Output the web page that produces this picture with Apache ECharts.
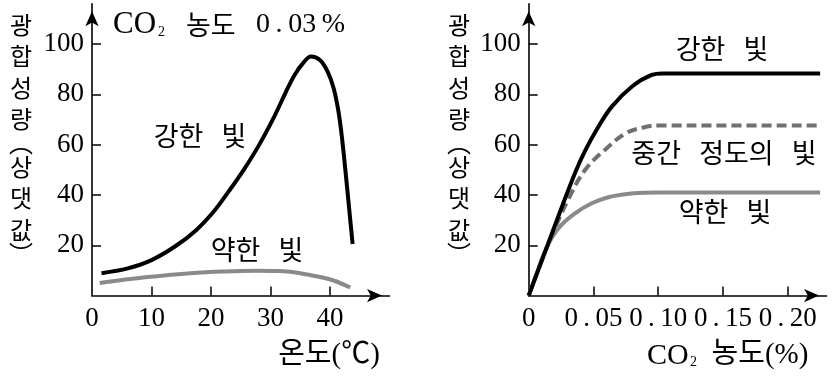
<!DOCTYPE html>
<html><head><meta charset="utf-8">
<script src="https://cdn.jsdelivr.net/npm/echarts@6/dist/echarts.min.js"></script>
<style>html,body{margin:0;padding:0;background:#fff}#c{width:833px;height:379px}</style>
</head><body><div id="c"></div>
<script>
// ---- data ----
const tempTicks = [0, 10, 20, 30, 40];
const tempTickMarks = [10, 20, 30, 40];
const co2Ticks = [0, 0.05, 0.10, 0.15, 0.20];
const co2TickMarks = [0.05, 0.10, 0.15, 0.20];
const co2TickLabels = ['0', '0.05', '0.10', '0.15', '0.20'];
const rateTicks = [20, 40, 60, 80, 100];

// left chart: photosynthesis vs temperature (CO2 0.03%)
const tempStrong = [[1.6,8.9],[6,10.8],[10,14.1],[14,19.6],[17.5,26],[20.5,33.5],[23,41.5],[25.5,50],[28,59.5],[30.5,70.5],[32.5,80.5],[34,87.5],[35.5,92.5],[36.8,95],[38.3,93.6],[39.6,89],[40.6,82.5],[41.4,73.5],[42,63],[42.6,49.5],[43.2,35],[43.8,20.5]];
const tempWeak = [[1.3,5],[5.3,6.3],[10.9,7.7],[16.5,8.9],[22.1,9.6],[27.7,9.9],[31.5,9.8],[35,8.9],[38.3,7.4],[40.6,6.0],[43.4,3.2]];

// right chart: photosynthesis vs CO2 concentration
const co2Strong = [[0,0],[0.012,16.5],[0.024,33],[0.036,49],[0.0435,57.5],[0.052,65.5],[0.064,75],[0.08,83.2],[0.095,87.7],[0.103,88.3],[0.15,88.3],[0.225,88.3]];
const co2Medium = [[0,0],[0.009,12.5],[0.018,24],[0.0308,38.5],[0.0435,49.9],[0.059,58],[0.075,64.5],[0.09,67],[0.1,67.6],[0.15,67.6],[0.225,67.6]];
const co2Weak = [[0,0],[0.007,10],[0.0139,19.2],[0.0229,26.7],[0.0358,32.7],[0.0487,36.7],[0.0615,39.1],[0.0744,40.3],[0.09,40.9],[0.1,41],[0.15,41],[0.225,41]];

const seriesNames = ['강한 빛', '약한 빛', '중간 정도의 빛'];

// ---- style ----
const SERIF = "'Liberation Serif', 'Noto Sans CJK KR', serif";
const SANS = "'Noto Sans CJK KR', sans-serif";
const BLACK = '#000';
const GRAY = '#8a8a8a';
const DGRAY = '#707070';

function axisLine() {
  return { show: true, onZero: true, lineStyle: { color: BLACK, width: 1.6 },
           symbol: ['none', 'arrow'], symbolSize: [10, 15], symbolOffset: [0, -7.5] };
}
function tick(vals) {
  return { show: true, inside: true, length: 9, customValues: vals, lineStyle: { color: BLACK, width: 1.5 } };
}
const labelBase = { color: BLACK, fontSize: 27, fontFamily: SERIF, hideOverlap: false };
const dot = s => s.replace('.', '\u2009.\u2009');

const gridTop = 3.7, gridH = 291.9;

const option = {
  animation: false,
  backgroundColor: '#fff',
  grid: [
    { left: 92, top: gridTop, width: 297.5, height: gridH },
    { left: 528.7, top: gridTop, width: 297.9, height: gridH }
  ],
  xAxis: [
    { type: 'value', gridIndex: 0, min: 0, max: 50, splitLine: { show: false },
      axisLine: axisLine(), axisTick: tick(tempTickMarks),
      axisLabel: Object.assign({ customValues: tempTicks, margin: 10 }, labelBase) },
    { type: 'value', gridIndex: 1, min: 0, max: 0.23, splitLine: { show: false },
      axisLine: axisLine(), axisTick: tick(co2TickMarks),
      axisLabel: Object.assign({ customValues: co2Ticks, margin: 10,
        formatter: v => { let i = co2Ticks.findIndex(t => Math.abs(t - v) < 1e-6); return i < 0 ? '' : dot(co2TickLabels[i]); } }, labelBase) }
  ],
  yAxis: [
    { type: 'value', gridIndex: 0, min: 0, max: 116, splitLine: { show: false },
      axisLine: axisLine(), axisTick: tick(rateTicks),
      axisLabel: Object.assign({ customValues: rateTicks, margin: 8 }, labelBase) },
    { type: 'value', gridIndex: 1, min: 0, max: 116, splitLine: { show: false },
      axisLine: axisLine(), axisTick: tick(rateTicks),
      axisLabel: Object.assign({ customValues: rateTicks, margin: 8 }, labelBase) }
  ],
  series: [
    { name: seriesNames[1], type: 'line', xAxisIndex: 0, yAxisIndex: 0, data: tempWeak, smooth: 0.4, showSymbol: false,
      lineStyle: { color: GRAY, width: 4 } },
    { name: seriesNames[0], type: 'line', xAxisIndex: 0, yAxisIndex: 0, data: tempStrong, smooth: 0.35, showSymbol: false,
      lineStyle: { color: BLACK, width: 4 } },
    { name: seriesNames[1], type: 'line', xAxisIndex: 1, yAxisIndex: 1, data: co2Weak, smooth: 0.4, showSymbol: false,
      lineStyle: { color: GRAY, width: 4 } },
    { name: seriesNames[2], type: 'line', xAxisIndex: 1, yAxisIndex: 1, data: co2Medium, smooth: 0.4, showSymbol: false,
      lineStyle: { color: DGRAY, width: 4, type: [10, 5] } },
    { name: seriesNames[0], type: 'line', xAxisIndex: 1, yAxisIndex: 1, data: co2Strong, smooth: 0.4, showSymbol: false,
      lineStyle: { color: BLACK, width: 4 } }
  ],
  graphic: []
};

function txt(x, y, text, size, family, align) {
  return { type: 'text', x: x, y: y, silent: true,
           style: { text: text, fontSize: size, fontFamily: family, fill: BLACK,
                    align: align || 'center', verticalAlign: 'middle' } };
}
function vName(x, top) {
  const t = '{c|광}\n{c|합}\n{c|성}\n{c|량}\n{p|︵}\n{c|상}\n{c|댓}\n{c|값}\n{p|︶}';
  return { type: 'text', x: x, y: top, silent: true,
    style: { text: t, align: 'center', verticalAlign: 'top', fill: BLACK,
      fontSize: 24, fontFamily: SANS,
      rich: {
        c: { fontSize: 24, fontFamily: SANS, lineHeight: 31.5, align: 'center', fill: BLACK },
        p: { fontSize: 24, fontFamily: SANS, lineHeight: 16, align: 'center', fill: BLACK }
      } } };
}

option.graphic = [
  // title: CO2 농도 0.03%
  txt(113, 25, 'CO', 31, SERIF, 'left'),
  txt(158, 32, '2', 14, SERIF, 'left'),
  txt(186, 25, '농도', 27, SANS, 'left'),
  txt(256, 25, '0\u2009.\u200903\u2009%', 28, SERIF, 'left'),
  // curve labels
  txt(200, 136, '강한   빛', 27, SANS),
  txt(257, 250, '약한   빛', 27, SANS),
  txt(722, 49, '강한   빛', 27, SANS),
  txt(724, 153, '중간   정도의   빛', 27, SANS),
  txt(725, 212, '약한   빛', 27, SANS),
  // axis names
  txt(329, 355, '온도(℃)', 29, SERIF),
  txt(647, 356, 'CO', 30, SERIF, 'left'),
  txt(690, 362, '2', 14, SERIF, 'left'),
  txt(760, 355, '농도(%)', 29, SERIF),
  vName(21, 9),
  vName(459, 9)
];

const chart = echarts.init(document.getElementById('c'), null, { renderer: 'canvas' });
chart.setOption(option);
</script>
</body></html>
